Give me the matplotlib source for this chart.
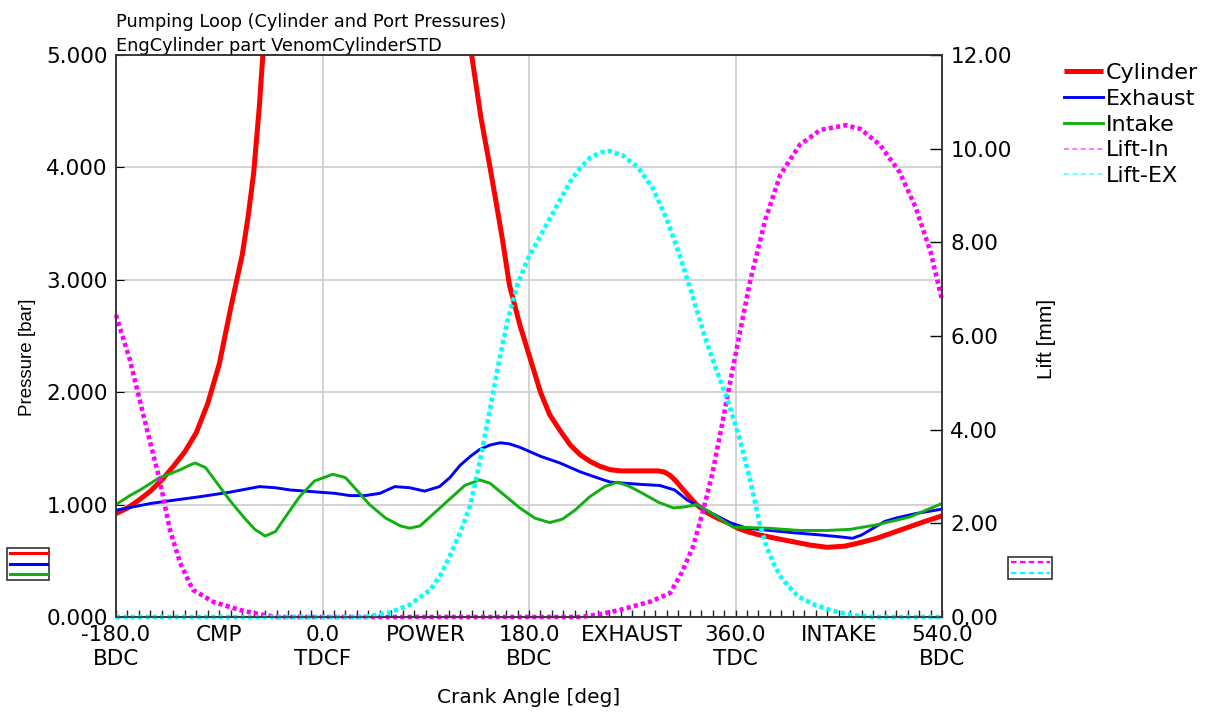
import matplotlib
matplotlib.use('Agg')
import matplotlib.pyplot as plt
from matplotlib.lines import Line2D

plt.rcParams['font.family'] = ['DejaVu Sans']

# --- data ---
CYL_DEG = [-180, -170, -160, -150, -140, -130, -120, -110, -100, -90, -80, -70, -65, -60, -55, -50, -45,
           125, 130, 138, 146, 152, 157, 163, 172, 181, 190, 198, 207, 216, 225, 234, 242, 251, 260, 280,
           292, 298, 303, 308, 313, 319, 326, 335, 344, 353, 362, 370, 381, 395, 410, 425, 440, 455, 468, 483,
           497, 511, 525, 540]
CYL_BAR = [0.92, 0.97, 1.04, 1.12, 1.22, 1.34, 1.47, 1.64, 1.90, 2.25, 2.75, 3.22, 3.55, 3.95, 4.55, 5.3, 6.2,
           5.6, 5.0, 4.45, 4.0, 3.65, 3.35, 2.95, 2.6, 2.3, 2.0, 1.8, 1.66, 1.53, 1.44, 1.38, 1.34, 1.31, 1.30, 1.30,
           1.30, 1.29, 1.26, 1.21, 1.15, 1.08, 1.0, 0.93, 0.88, 0.84, 0.79, 0.76, 0.73, 0.70, 0.67, 0.64, 0.62, 0.63,
           0.66, 0.70, 0.75, 0.80, 0.85, 0.90]

EXH_DEG = [-180, -150, -129, -107, -81, -55, -41, -28, -15, -2, 11, 24, 37, 50, 63, 76, 89, 102, 111, 120,
           129, 137, 146, 155, 163, 172, 190, 207, 225, 242, 251, 277, 294, 307, 318, 329, 338, 355, 370, 390,
           410, 434, 454, 462, 470, 480, 490, 500, 517, 540]
EXH_BAR = [0.95, 1.01, 1.04, 1.07, 1.11, 1.16, 1.15, 1.13, 1.12, 1.11, 1.10, 1.08, 1.08, 1.10, 1.16, 1.15, 1.12,
           1.16, 1.24, 1.35, 1.43, 1.49, 1.53, 1.55, 1.54, 1.51, 1.43, 1.37, 1.29, 1.23, 1.20, 1.18, 1.17, 1.13,
           1.04, 0.98, 0.93, 0.84, 0.79, 0.77, 0.75, 0.73, 0.71, 0.70, 0.73, 0.79, 0.85, 0.88, 0.92, 0.96]

INT_DEG = [-180, -168, -159, -142, -124, -116, -111, -102, -94, -81, -68, -59, -50, -41, -33, -20, -7, 9, 20,
           28, 41, 55, 68, 76, 85, 98, 111, 124, 137, 146, 159, 172, 185, 198, 209, 220, 233, 246, 257, 268,
           279, 293, 306, 316, 326, 338, 358, 388, 416, 440, 460, 483, 512, 540]
INT_BAR = [1.0, 1.08, 1.13, 1.24, 1.31, 1.35, 1.37, 1.33, 1.22, 1.04, 0.88, 0.78, 0.72, 0.76, 0.88, 1.07, 1.21,
           1.27, 1.24, 1.15, 1.0, 0.88, 0.81, 0.79, 0.81, 0.93, 1.05, 1.17, 1.22, 1.19, 1.08, 0.97, 0.88, 0.84,
           0.87, 0.95, 1.07, 1.16, 1.20, 1.16, 1.10, 1.02, 0.97, 0.98, 1.00, 0.93, 0.80, 0.79, 0.77, 0.77, 0.78,
           0.82, 0.89, 1.01]

LIN_DEG = [-180, -168, -155, -142, -133, -124, -113, -95, -72, -57, -40, 224, 240, 259, 286, 303, 313, 323,
           332, 340, 349, 356, 364, 373, 386, 399, 416, 434, 456, 469, 486, 503, 517, 530, 540]
LIN_MM = [6.45, 5.5, 4.2, 2.93, 1.86, 1.15, 0.58, 0.32, 0.15, 0.07, 0.0, 0.0, 0.05, 0.15, 0.33, 0.51, 0.94, 1.5,
          2.29, 3.08, 4.2, 5.1, 6.1, 7.2, 8.48, 9.44, 10.08, 10.4, 10.5, 10.42, 10.08, 9.5, 8.75, 7.8, 6.77]

LEX_DEG = [-180, 37, 59, 76, 94, 103, 111, 120, 129, 137, 145, 153, 161, 170, 179, 188, 198, 207, 216, 225,
           233, 242, 250, 262, 275, 288, 300, 311, 322, 333, 343, 353, 364, 373, 381, 387, 394, 401, 415, 430,
           445, 462, 480, 540]
LEX_MM = [0, 0, 0.1, 0.26, 0.58, 0.9, 1.3, 1.8, 2.4, 3.3, 4.3, 5.35, 6.3, 7.1, 7.65, 8.05, 8.5, 8.9, 9.3, 9.6,
          9.8, 9.92, 9.95, 9.85, 9.6, 9.15, 8.5, 7.75, 6.9, 6.0, 5.3, 4.64, 3.78, 2.9, 2.0, 1.5, 1.1, 0.8, 0.43,
          0.25, 0.13, 0.04, 0, 0]

XTICKS = [-180, -90, 0, 90, 180, 270, 360, 450, 540]
XLABELS = ['-180.0\nBDC', 'CMP', '0.0\nTDCF', 'POWER', '180.0\nBDC', 'EXHAUST', '360.0\nTDC', 'INTAKE',
           '540.0\nBDC']
GRID_X = [0, 180, 360]
P_TICKS = [0, 1, 2, 3, 4, 5]
L_TICKS = [0, 2, 4, 6, 8, 10, 12]

RED, BLUE, GREEN = '#ff0000', '#0000ff', '#10b010'
MAG, CYAN = '#ff00ff', '#00ffff'
DOTS = (0.9, 0.7)

fig = plt.figure(figsize=(12.1, 7.14), dpi=100)
ax = fig.add_axes([116 / 1210, 1 - 617 / 714, 826 / 1210, 562 / 714])
ax2 = ax.twinx()

h_cyl, = ax.plot(CYL_DEG, CYL_BAR, color=RED, lw=3.6, solid_capstyle='butt')
h_exh, = ax.plot(EXH_DEG, EXH_BAR, color=BLUE, lw=2.1)
h_int, = ax.plot(INT_DEG, INT_BAR, color=GREEN, lw=2.1)

ax2.plot(LIN_DEG, LIN_MM, color=MAG, lw=3.3, dashes=DOTS, dash_capstyle='butt', clip_on=False)
ax2.plot(LEX_DEG, LEX_MM, color=CYAN, lw=3.3, dashes=DOTS, dash_capstyle='butt', clip_on=False)

for gx in GRID_X:
    ax.axvline(gx, color='#c8c8c8', lw=1.1, zorder=0)
ax.grid(axis='y', color='#c8c8c8', lw=1.1)
ax.set_axisbelow(True)

ax.set_xlim(-180, 540)
ax.set_ylim(0, 5)
ax2.set_ylim(0, 12)
ax.set_xticks(XTICKS, XLABELS)
ax.set_xticks(range(-180, 541, 10), minor=True)
ax.set_yticks(P_TICKS, [f'{v:.3f}' for v in P_TICKS])
ax2.set_yticks(L_TICKS, [f'{v:.2f}' for v in L_TICKS])

ax.tick_params(axis='x', which='both', direction='in', length=5, width=1, color='#222222',
               labelsize=15.5, pad=6)
ax.tick_params(axis='y', direction='in', length=6, labelsize=15.5, pad=6)
ax2.tick_params(axis='y', direction='in', length=8.5, width=1, labelsize=15.5, pad=6)

for a in (ax, ax2):
    for s in a.spines.values():
        s.set_color('#333333')
        s.set_linewidth(1.1)

ax.set_xlabel('Crank Angle [deg]', fontsize=14.5, labelpad=14)
ax.set_ylabel('Pressure [bar]', fontsize=13.5, family='Liberation Sans')
ax.yaxis.set_label_coords(-0.097, 0.463)
ax2.set_ylabel('Lift [mm]', fontsize=15, family='Liberation Sans')
ax2.yaxis.set_label_coords(1.115, 0.495)

ax.set_title('Pumping Loop (Cylinder and Port Pressures)\nEngCylinder part VenomCylinderSTD',
             loc='left', fontsize=12.8, pad=0, linespacing=1.45)

# main legend, top right
leg_lift_in = Line2D([], [], color='#ff66ff', lw=1.2, dashes=(3, 2))
leg_lift_ex = Line2D([], [], color='#55ffff', lw=1.2, dashes=(3, 2))
fig.legend([h_cyl, h_exh, h_int, leg_lift_in, leg_lift_ex],
           ['Cylinder', 'Exhaust', 'Intake', 'Lift-In', 'Lift-EX'],
           loc='upper left', bbox_to_anchor=(1064 / 1210, 1 - 63 / 714), frameon=False,
           fontsize=16, handlelength=1.75, handletextpad=0.12, labelspacing=0.26,
           borderpad=0, borderaxespad=0)

# small key boxes
key_p = [Line2D([], [], color=c, lw=2.2) for c in (RED, BLUE, GREEN)]
kl = fig.legend(key_p, ['', '', ''], loc='upper left', bbox_to_anchor=(7 / 1210, 1 - 548 / 714),
                fontsize=5, handlelength=5.3, handletextpad=0, labelspacing=0.6, borderpad=0.4,
                borderaxespad=0, fancybox=False, framealpha=1, edgecolor='#222222')
kl.get_frame().set_linewidth(1.1)
key_l = [Line2D([], [], color=c, lw=1.6, dashes=(2.5, 1.5)) for c in (MAG, CYAN)]
kr = fig.legend(key_l, ['', ''], loc='upper left', bbox_to_anchor=(1008 / 1210, 1 - 557 / 714),
                fontsize=5, handlelength=5.6, handletextpad=0, labelspacing=0.6, borderpad=0.4,
                borderaxespad=0, fancybox=False, framealpha=1, edgecolor='#222222')
kr.get_frame().set_linewidth(1.1)

fig.savefig('out.png', dpi=100)
